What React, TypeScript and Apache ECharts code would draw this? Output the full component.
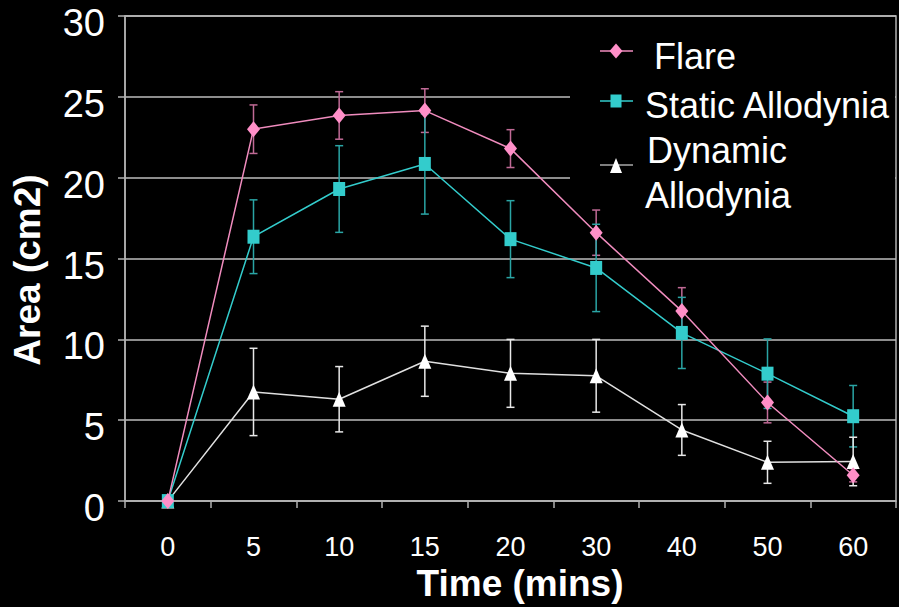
import React, { useEffect, useRef } from "react";
import * as echarts from "echarts";

const categories = ["0", "5", "10", "15", "20", "30", "40", "50", "60"];
const yTicks = [0, 5, 10, 15, 20, 25, 30];
const flare = [0, 23.0, 23.85, 24.15, 21.8, 16.6, 11.75, 6.1, 1.6];
const flareErr = [0, 1.5, 1.47, 1.35, 1.17, 1.4, 1.45, 1.26, 0.41];
const staticAllo = [0, 16.35, 19.3, 20.85, 16.2, 14.42, 10.4, 7.88, 5.25];
const staticErr = [0, 2.28, 2.68, 3.1, 2.38, 2.7, 2.2, 2.15, 1.9];
const dynamicAllo = [0, 6.75, 6.3, 8.65, 7.9, 7.75, 4.4, 2.4, 2.45];
const dynamicErr = [0, 2.7, 2.02, 2.17, 2.1, 2.25, 1.57, 1.3, 1.5];

const FONT = '"Liberation Sans", Arial, Helvetica, sans-serif';
const PINK = "#ff8fc8";
const PINK_LINE = "#f08cbe";
const PINK_ERR = "#c06a96";
const TEAL = "#33cccc";
const TEAL_ERR = "#2aa5a5";
const WHITE = "#ffffff";
const GRID = "#bdbdbd";

function errData(vals: number[], errs: number[]) {
  const out: number[][] = [];
  vals.forEach((v, i) => {
    if (errs[i] > 0) out.push([i, v - errs[i], v + errs[i]]);
  });
  return out;
}

function errSeries(name: string, vals: number[], errs: number[], color: string) {
  return {
    type: "custom",
    name,
    z: 1,
    silent: true,
    data: errData(vals, errs),
    renderItem: (_p: any, api: any) => {
      const x = api.value(0);
      const lo = api.coord([x, api.value(1)]);
      const hi = api.coord([x, api.value(2)]);
      const w = 4;
      const style = { stroke: color, lineWidth: 1.5 };
      return {
        type: "group",
        children: [
          { type: "line", shape: { x1: lo[0], y1: lo[1], x2: hi[0], y2: hi[1] }, style },
          { type: "line", shape: { x1: hi[0] - w, y1: hi[1], x2: hi[0] + w, y2: hi[1] }, style },
          { type: "line", shape: { x1: lo[0] - w, y1: lo[1], x2: lo[0] + w, y2: lo[1] }, style },
        ],
      };
    },
  };
}

export default function App() {
  const ref = useRef<HTMLDivElement>(null);
  useEffect(() => {
    if (!ref.current) return;
    const chart = echarts.init(ref.current, undefined, { renderer: "svg" });
    const legendText = (text: string, x: number, y: number) => ({
      type: "text",
      z: 10,
      x,
      y,
      style: { text, fill: WHITE, font: `36px ${FONT}`, align: "left", verticalAlign: "middle" },
    });
    chart.setOption({
      animation: false,
      backgroundColor: "#000000",
      grid: {
        left: 125,
        right: 3,
        top: 16,
        bottom: 101,
        show: true,
        borderColor: "#b0b0b0",
        borderWidth: 1.5,
        backgroundColor: "transparent",
      },
      xAxis: {
        type: "category",
        data: categories,
        boundaryGap: true,
        axisLine: { lineStyle: { color: "#b0b0b0", width: 1.5 } },
        axisTick: { show: true, length: 7, interval: 0, lineStyle: { color: "#b0b0b0", width: 1.5 } },
        axisLabel: { interval: 0, color: WHITE, fontSize: 27, fontFamily: FONT, margin: 32 },
        splitLine: { show: false },
        name: "Time (mins)",
        nameLocation: "middle",
        nameGap: 63,
        nameTextStyle: {
          color: WHITE,
          fontSize: 37,
          fontWeight: "bold",
          fontFamily: FONT,
          padding: [0, 0, 0, 19],
        },
      },
      yAxis: {
        type: "value",
        min: yTicks[0],
        max: yTicks[yTicks.length - 1],
        interval: 5,
        axisLine: { show: true, lineStyle: { color: "#b0b0b0", width: 1.5 } },
        axisTick: { show: true, length: 7, lineStyle: { color: "#b0b0b0", width: 1.5 } },
        axisLabel: {
          margin: 20,
          formatter: "{a|{value}}",
          rich: {
            a: {
              color: WHITE,
              fontSize: 38,
              fontFamily: FONT,
              padding: [14, 0, 0, 0],
            },
          },
        },
        splitLine: { show: true, lineStyle: { color: GRID, width: 1.5 } },
      },
      graphic: [
        {
          type: "rect",
          z: 1,
          shape: { x: 570, y: 18, width: 325, height: 240 },
          style: { fill: "#000000" },
        },
        {
          type: "text",
          z: 10,
          x: 27,
          y: 270,
          rotation: Math.PI / 2,
          style: {
            text: "Area (cm2)",
            fill: WHITE,
            font: `bold 37px ${FONT}`,
            align: "center",
            verticalAlign: "middle",
          },
        },
        { type: "line", z: 10, shape: { x1: 600, y1: 51, x2: 633, y2: 51 }, style: { stroke: PINK_LINE, lineWidth: 1.5 } },
        {
          type: "polygon",
          z: 11,
          shape: { points: [[616, 43.5], [622.5, 51], [616, 58.5], [609.5, 51]] },
          style: { fill: PINK },
        },
        { type: "line", z: 10, shape: { x1: 600, y1: 101, x2: 633, y2: 101 }, style: { stroke: TEAL, lineWidth: 1.5 } },
        { type: "rect", z: 11, shape: { x: 610.5, y: 94.5, width: 11, height: 13 }, style: { fill: TEAL } },
        { type: "line", z: 10, shape: { x1: 600, y1: 165, x2: 633, y2: 165 }, style: { stroke: "#a8a8a8", lineWidth: 1.5 } },
        {
          type: "polygon",
          z: 11,
          shape: { points: [[616, 158], [622, 173], [610, 173]] },
          style: { fill: WHITE },
        },
        legendText("Flare", 654, 56),
        legendText("Static Allodynia", 645, 105),
        legendText("Dynamic", 647, 150),
        legendText("Allodynia", 645, 195),
      ],
      series: [
        errSeries("Flare error", flare, flareErr, PINK_ERR),
        errSeries("Static error", staticAllo, staticErr, TEAL_ERR),
        errSeries("Dynamic error", dynamicAllo, dynamicErr, "#e8e8e8"),
        {
          type: "line",
          name: "Dynamic Allodynia",
          data: dynamicAllo,
          symbol: "triangle",
          symbolSize: [13, 15],
          itemStyle: { color: WHITE },
          lineStyle: { color: "#e0e0e0", width: 1.5 },
          z: 3,
        },
        {
          type: "line",
          name: "Static Allodynia",
          data: staticAllo,
          symbol: "rect",
          symbolSize: [12, 14],
          itemStyle: { color: TEAL },
          lineStyle: { color: TEAL, width: 1.5 },
          z: 4,
        },
        {
          type: "line",
          name: "Flare",
          data: flare,
          symbol: "diamond",
          symbolSize: [13, 16],
          itemStyle: { color: PINK },
          lineStyle: { color: PINK_LINE, width: 1.5 },
          z: 5,
        },
      ],
    });
    return () => chart.dispose();
  }, []);
  return (
    <div
      ref={ref}
      style={{ position: "fixed", left: 0, top: 0, width: 899, height: 607, background: "#000" }}
    />
  );
}
